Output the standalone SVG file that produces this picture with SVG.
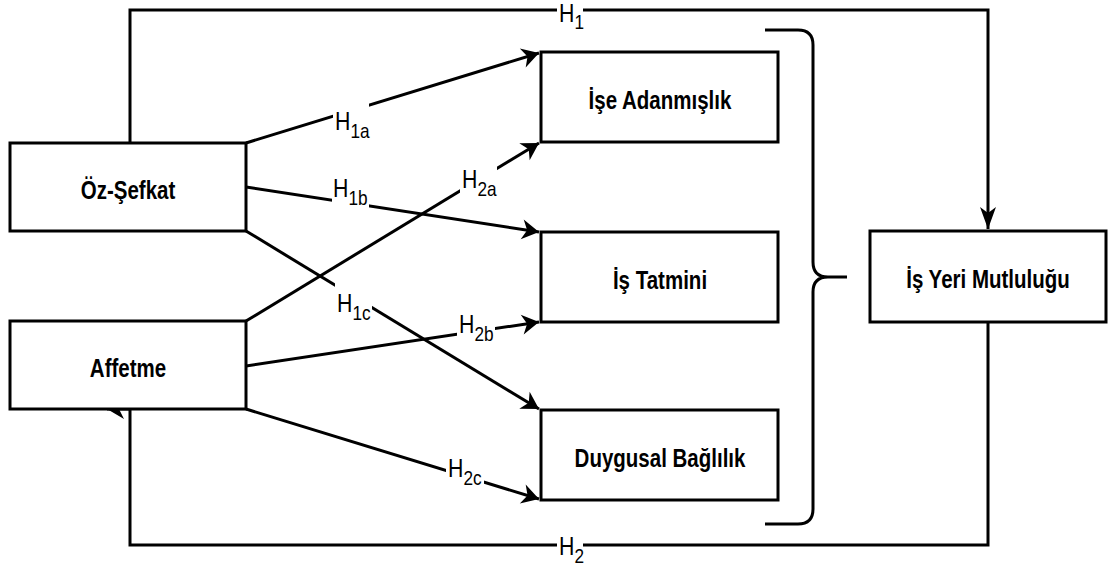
<svg xmlns="http://www.w3.org/2000/svg" width="1114" height="572" viewBox="0 0 1114 572">
<style>
.box{fill:#fff;stroke:#000;stroke-width:3}
.nt{font-family:"Liberation Sans",Arial,sans-serif;font-weight:bold;font-size:25px;fill:#000;text-anchor:middle}
.ln{fill:none;stroke:#000;stroke-width:3}
.lb{font-family:"Liberation Sans",Arial,sans-serif;font-size:26px;fill:#000}
.sb{font-size:21px}
.bg{fill:#fff;stroke:none}
</style>
<defs>
<marker id="ah" viewBox="-18 -11 19 22" markerWidth="19" markerHeight="22" refX="0" refY="0" orient="auto" markerUnits="userSpaceOnUse">
<path d="M0,0 L-17,-10 L-12,0 L-17,10 Z" fill="#000"/>
</marker>
<marker id="av" viewBox="-23 -9 24 18" markerWidth="24" markerHeight="18" refX="0" refY="0" orient="auto" markerUnits="userSpaceOnUse">
<path d="M0,0 L-22,-8 L-16,0 L-22,8 Z" fill="#000"/>
</marker>
</defs>
<rect width="1114" height="572" fill="#fff"/>
<g id="connectors">
<path class="ln" d="M130,143 V10 H988 V229" marker-end="url(#av)"/>
<path class="ln" d="M988,322 V545 H130 V409 H107" marker-end="url(#ah)"/>
<path class="ln" d="M246,143 L539,53" marker-end="url(#ah)"/>
<path class="ln" d="M246,187 L539,232" marker-end="url(#ah)"/>
<path class="ln" d="M246,231 L539,409" marker-end="url(#ah)"/>
<path class="ln" d="M246,321 L539,143" marker-end="url(#ah)"/>
<path class="ln" d="M246,366 L539,322" marker-end="url(#ah)"/>
<path class="ln" d="M246,409 L539,499" marker-end="url(#ah)"/>
<path id="brace" class="ln" d="M765,30 L798,30 Q813,30 813,45 L813,262 Q813,277 828,277 L847,277 M828,277 Q813,277 813,292 L813,509 Q813,524 798,524 L765,524"/>
</g>
<g id="labels">
<rect class="bg" x="557" y="0" width="26" height="30"/>
<text class="lb" transform="translate(559,22) scale(0.82,1)">H<tspan class="sb" dy="7">1</tspan></text>
<rect class="bg" x="557" y="535" width="26" height="33"/>
<text class="lb" transform="translate(559,555) scale(0.82,1)">H<tspan class="sb" dy="8">2</tspan></text>
<rect class="bg" x="333" y="100" width="36" height="41"/>
<text class="lb" transform="translate(335,130) scale(0.82,1)">H<tspan class="sb" dy="8">1a</tspan></text>
<rect class="bg" x="332" y="176" width="37" height="33"/>
<text class="lb" transform="translate(333,197) scale(0.82,1)">H<tspan class="sb" dy="8">1b</tspan></text>
<rect class="bg" x="460" y="166" width="37" height="32"/>
<text class="lb" transform="translate(462,188) scale(0.82,1)">H<tspan class="sb" dy="8">2a</tspan></text>
<rect class="bg" x="335" y="283" width="37" height="40"/>
<text class="lb" transform="translate(337,312) scale(0.82,1)">H<tspan class="sb" dy="8">1c</tspan></text>
<rect class="bg" x="457" y="312" width="38" height="32"/>
<text class="lb" transform="translate(459,333) scale(0.82,1)">H<tspan class="sb" dy="8">2b</tspan></text>
<rect class="bg" x="446" y="456" width="38" height="32"/>
<text class="lb" transform="translate(448,477) scale(0.82,1)">H<tspan class="sb" dy="8">2c</tspan></text>
</g>
<g id="node-oz-sefkat">
<rect class="box" x="10" y="143" width="236" height="88"/>
<text class="nt" transform="translate(128,199) scale(0.82,1)">Öz-Şefkat</text>
</g>
<g id="node-affetme">
<rect class="box" x="10" y="321" width="236" height="88"/>
<text class="nt" transform="translate(128,377) scale(0.82,1)">Affetme</text>
</g>
<g id="node-ise-adanmislik">
<rect class="box" x="541" y="52" width="237" height="90"/>
<text class="nt" transform="translate(660,109) scale(0.82,1)">İşe Adanmışlık</text>
</g>
<g id="node-is-tatmini">
<rect class="box" x="541" y="232" width="237" height="90"/>
<text class="nt" transform="translate(660,289) scale(0.82,1)">İş Tatmini</text>
</g>
<g id="node-duygusal-baglilik">
<rect class="box" x="541" y="410" width="237" height="90"/>
<text class="nt" transform="translate(660,467) scale(0.82,1)">Duygusal Bağlılık</text>
</g>
<g id="node-is-yeri-mutlulugu">
<rect class="box" x="870" y="231" width="236" height="91"/>
<text class="nt" transform="translate(988,288) scale(0.82,1)">İş Yeri Mutluluğu</text>
</g>
</svg>
